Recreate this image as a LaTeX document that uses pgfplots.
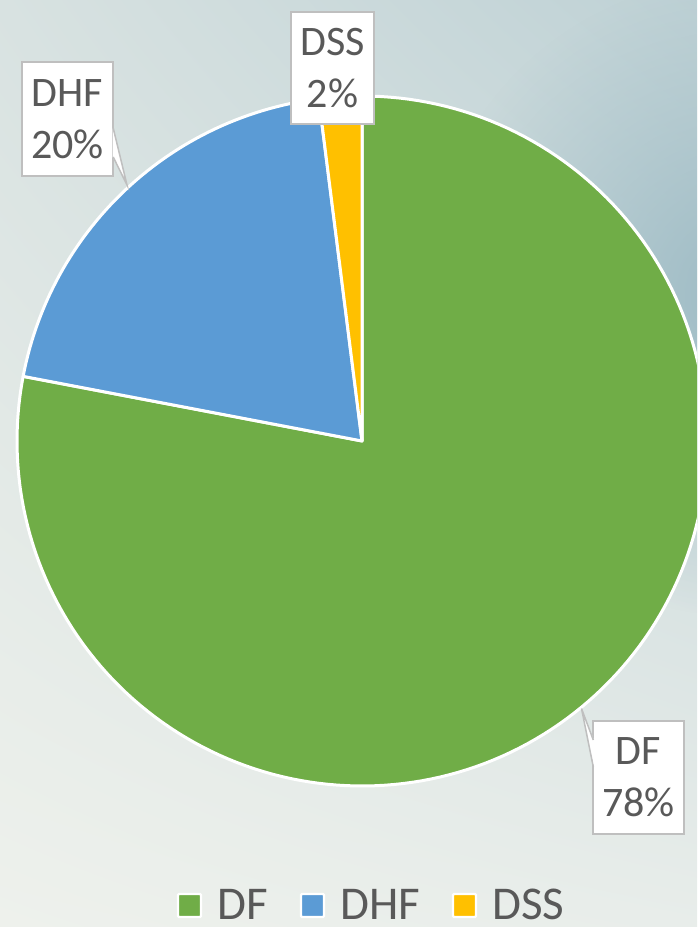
\documentclass[border=0pt]{standalone}
\usepackage{pgfplots}
\usepackage{pgfplotstable}
\pgfplotsset{compat=1.18}
\usetikzlibrary{fadings,shadings}
\usepackage{fontspec}
\setmainfont{Carlito}
\definecolor{dfgreen}{HTML}{70AD47}
\definecolor{dhfblue}{HTML}{5B9BD5}
\definecolor{dssyellow}{HTML}{FFC000}
\definecolor{txt}{HTML}{595959}
\definecolor{boxline}{HTML}{BFBFBF}
\definecolor{bgUL}{HTML}{D8E2E1}
\definecolor{bgUR}{HTML}{BED1D5}
\definecolor{bgLL}{HTML}{EEF1EC}
\definecolor{bgLR}{HTML}{E8EDEA}
\definecolor{bgBlue}{HTML}{9CBAC4}
\tikzfading[name=softout, inner color=transparent!0, outer color=transparent!100]

\pgfplotstableread{
label value
DF 78
DHF 20
DSS 2
}\piedata
\pgfplotstablegetelem{0}{value}\of\piedata \let\vA\pgfplotsretval
\pgfplotstablegetelem{1}{value}\of\piedata \let\vB\pgfplotsretval
\pgfplotstablegetelem{2}{value}\of\piedata \let\vC\pgfplotsretval
\pgfmathsetmacro\aA{90}
\pgfmathsetmacro\aB{90-3.6*\vA}
\pgfmathsetmacro\aC{\aB-3.6*\vB}
\pgfmathsetmacro\aD{\aC-3.6*\vC}

\begin{document}
\begin{tikzpicture}
\shade[upper left=bgUL, upper right=bgUR, lower left=bgLL, lower right=bgLR] (0,0) rectangle (348.5pt,463.5pt);
\begin{scope}
\clip (0,0) rectangle (348.5pt,463.5pt);
\fill[bgBlue, path fading=softout] (372pt,315pt) circle (160pt);
\end{scope}
\begin{axis}[
  at={(0,0)}, anchor=south west,
  scale only axis, width=348.5pt, height=463.5pt,
  xmin=0, xmax=697, ymin=0, ymax=927,
  hide axis, clip=true,
]
\addplot[fill=dfgreen, draw=white, line width=1.5pt, line join=round, domain=\aB:\aA, samples=181, variable=\t]
  ({362+345*cos(t)},{486+345*sin(t)}) -- (362,486) -- cycle;
\addplot[fill=dhfblue, draw=white, line width=1.5pt, line join=round, domain=\aC:\aB, samples=61, variable=\t]
  ({362+345*cos(t)},{486+345*sin(t)}) -- (362,486) -- cycle;
\addplot[fill=dssyellow, draw=white, line width=1.5pt, line join=round, domain=\aD:\aC, samples=11, variable=\t]
  ({362+345*cos(t)},{486+345*sin(t)}) -- (362,486) -- cycle;

% DHF label with pointer
\node[draw=boxline, line width=0.75pt, fill=white, minimum width=45.5pt, minimum height=57pt, inner sep=0pt,
  align=center, text=txt, font=\fontsize{21}{26}\selectfont] at (67.5,808) {DHF\\20\%};
\fill[white] (112.6,799) -- (127,742) -- (112.6,770) -- cycle;
\draw[boxline, line width=0.75pt] (113.2,799) -- (127,742) -- (113.2,770);
% DSS label
\node[draw=boxline, line width=0.75pt, fill=white, minimum width=41.5pt, minimum height=56pt, inner sep=0pt,
  align=center, text=txt, font=\fontsize{21}{26}\selectfont] at (332.5,859) {DSS\\2\%};
% DF label with pointer
\node[draw=boxline, line width=0.75pt, fill=white, minimum width=45.5pt, minimum height=56.5pt, inner sep=0pt,
  align=center, text=txt, font=\fontsize{21}{26}\selectfont] at (638.5,149.5) {DF\\78\%};
\fill[white] (593.9,187) -- (581.5,218.5) -- (593.9,160) -- cycle;
\draw[boxline, line width=0.75pt] (593.3,187) -- (581.5,218.5) -- (593.3,160);

% legend
\filldraw[fill=dfgreen, draw=white, line width=1.2pt, rounded corners=0.5pt] (178,10) rectangle (201,33);
\node[anchor=base west, inner sep=0pt, text=txt, font=\fontsize{23.5}{28}\selectfont] at (217,8) {DF};
\filldraw[fill=dhfblue, draw=white, line width=1.2pt, rounded corners=0.5pt] (301,10) rectangle (324,33);
\node[anchor=base west, inner sep=0pt, text=txt, font=\fontsize{23.5}{28}\selectfont] at (340,8) {DHF};
\filldraw[fill=dssyellow, draw=white, line width=1.2pt, rounded corners=0.5pt] (453,10) rectangle (476,33);
\node[anchor=base west, inner sep=0pt, text=txt, font=\fontsize{23.5}{28}\selectfont] at (492,8) {DSS};
\end{axis}
\end{tikzpicture}
\end{document}
